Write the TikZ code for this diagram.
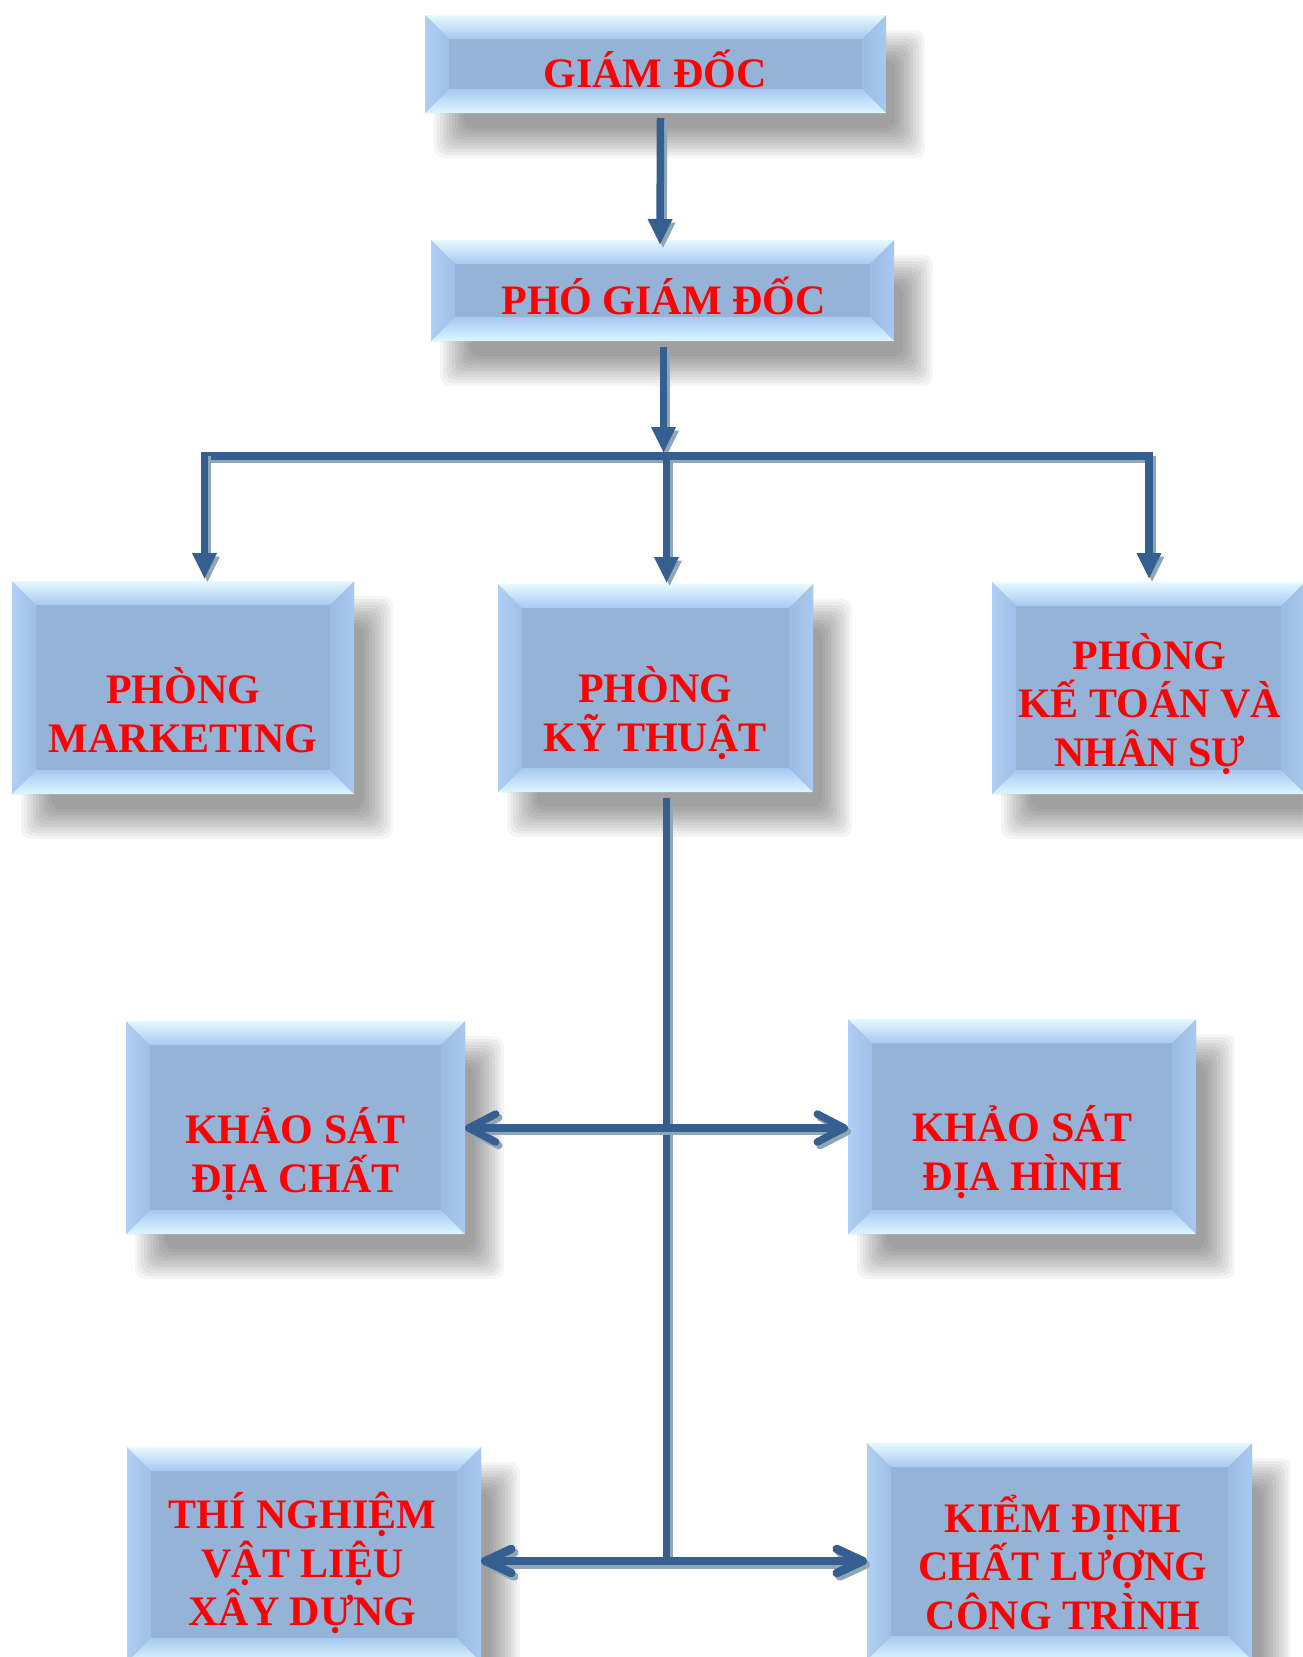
\documentclass[tikz,border=0pt]{standalone}
\usepackage{fontspec}
\setmainfont{Liberation Serif}
\usetikzlibrary{arrows.meta}
\definecolor{face}{HTML}{95B3D7}
\definecolor{bevtop}{HTML}{E6F9FF}
\definecolor{bevin}{HTML}{A7C9F1}
\definecolor{bevbot}{HTML}{DDF6FF}
\definecolor{bevlft}{HTML}{AFCFF5}
\definecolor{bevlin}{HTML}{9FBFE6}
\definecolor{bevrt}{HTML}{A9C9F1}
\definecolor{bevrin}{HTML}{9CBBE2}
\definecolor{linec}{HTML}{365F91}
\definecolor{lineshd}{HTML}{8DA7B4}
\definecolor{txtred}{HTML}{FF0000}
\newcommand\bevelpaint{%
 \path (path picture bounding box.north west) coordinate (bNW)
       (path picture bounding box.north east) coordinate (bNE)
       (path picture bounding box.south west) coordinate (bSW)
       (path picture bounding box.south east) coordinate (bSE);
 \fill[left color=bevlft,right color=bevlin] (bNW) -- ([xshift=24pt,yshift=-24pt]bNW) -- ([xshift=24pt,yshift=24pt]bSW) -- (bSW) -- cycle;
 \fill[right color=bevrt,left color=bevrin] (bNE) -- ([xshift=-24pt,yshift=-24pt]bNE) -- ([xshift=-24pt,yshift=24pt]bSE) -- (bSE) -- cycle;
 \fill[top color=bevtop,bottom color=bevin] (bNW) -- (bNE) -- ([xshift=-24pt,yshift=-24pt]bNE) -- ([xshift=24pt,yshift=-24pt]bNW) -- cycle;
 \fill[bottom color=bevbot,top color=bevin] (bSW) -- (bSE) -- ([xshift=-24pt,yshift=24pt]bSE) -- ([xshift=24pt,yshift=24pt]bSW) -- cycle;
}
\newcommand\shconn[2]{%
 \draw[conn,#1,draw=lineshd,fill=lineshd,transform canvas={xshift=3pt,yshift=-3.5pt}] #2;
 \draw[conn,#1] #2;}
% name, x, y, w, h
\newcommand\bevnode[5]{%
 \foreach \i in {-15,-12,...,15}{%
   \fill[black,opacity=0.038,rounded corners=10pt] ({#2-#4/2+24-\i},{#3-#5/2+30-\i}) rectangle ({#2+#4/2+24+\i},{#3+#5/2+30+\i});
 }
 \node[bevbox,minimum width=#4pt,minimum height=#5pt] (#1) at (#2,#3) {};
}
\tikzset{
 bevbox/.style={draw=none, fill=face, inner sep=0pt, outer sep=0pt,
   path picture={\bevelpaint}},
 txtn/.style={text=txtred, align=center, inner sep=0pt,
   font=\fontsize{42pt}{48.5pt}\selectfont\bfseries},
 conn/.style={draw=linec, fill=linec, line width=7.5pt},
 tri/.style={-{Triangle[length=26pt,width=23pt]}},
 barb/.style={{Straight Barb[length=27pt,width=28pt,round]}-{Straight Barb[length=27pt,width=28pt,round]}},
 barbB/.style={line width=8.5pt,{Straight Barb[length=26pt,width=24pt,round]}-{Straight Barb[length=26pt,width=24pt,round]}},
}
\begin{document}
\begin{tikzpicture}[x=1pt,y=-1pt]
\fill[white] (0,0) rectangle (1302,1657);
\useasboundingbox (0,0) rectangle (1302,1657);
% boxes
\bevnode{gd}{655.5}{64}{461}{98}
\bevnode{pgd}{662.5}{290.5}{463}{101}
\bevnode{mk}{183}{687.5}{342}{213}
\bevnode{kt}{655.5}{688}{315}{208}
\bevnode{ktns}{1148.5}{688}{313}{212}
\bevnode{ksdc}{295.5}{1127.5}{339}{213}
\bevnode{ksdh}{1022}{1126.5}{348}{215}
\bevnode{tn}{304}{1554.5}{354}{215}
\bevnode{kd}{1059.5}{1551.5}{385}{217}
% texts
\node[txtn] (gd-t) at (655,69) {GIÁM ĐỐC};
\node[txtn] (pgd-t) at (663.5,296) {PHÓ GIÁM ĐỐC};
\node[txtn] (mk-t) at (183,710) {PHÒNG\\MARKETING};
\node[txtn] (kt-t) at (655,713) {PHÒNG\\KỸ THUẬT};
\node[txtn] (ktns-t) at (1149.5,704) {PHÒNG\\KẾ TOÁN VÀ\\NHÂN SỰ};
\node[txtn] (ksdc-t) at (295.5,1154) {KHẢO SÁT\\ĐỊA CHẤT};
\node[txtn] (ksdh-t) at (1022.5,1152) {KHẢO SÁT\\ĐỊA HÌNH};
\node[txtn] (tn-t) at (302.5,1563) {THÍ NGHIỆM\\VẬT LIỆU\\XÂY DỰNG};
\node[txtn] (kd-t) at (1063,1562) {KIỂM ĐỊNH\\CHẤT LƯỢNG\\CÔNG TRÌNH};
% connector coordinates
\coordinate (jn) at (663.5,453);
\coordinate (bl) at (200.75,456);
\coordinate (br) at (1152.75,456);
\coordinate (dL) at (204.5,452.5);
\coordinate (dM) at (666.5,456);
\coordinate (dR) at (1149,452.5);
\coordinate (tk) at (666.5,798);
\coordinate (r3) at (666.5,1128);
\coordinate (r4) at (666.5,1561);
% connectors
\shconn{tri}{([xshift=5pt,yshift=-5pt]gd.south) -- ([xshift=-2.5pt,yshift=-5pt]pgd.north)}
\shconn{tri}{([xshift=1pt,yshift=-6pt]pgd.south) -- (jn)}
\shconn{}{(bl) -- (br)}
\shconn{tri,shorten >=2pt}{(dL) -- (dL |- mk.north)}
\shconn{tri,shorten >=1pt}{(dM) -- (dM |- kt.north)}
\shconn{tri,shorten >=3pt}{(dR) -- (dR |- ktns.north)}
\shconn{}{(tk) -- (r4)}
\shconn{barb}{(r3 -| ksdc.east) -- (r3 -| ksdh.west)}
\shconn{barbB}{(r4 -| tn.east) -- (r4 -| kd.west)}
\end{tikzpicture}
\end{document}
